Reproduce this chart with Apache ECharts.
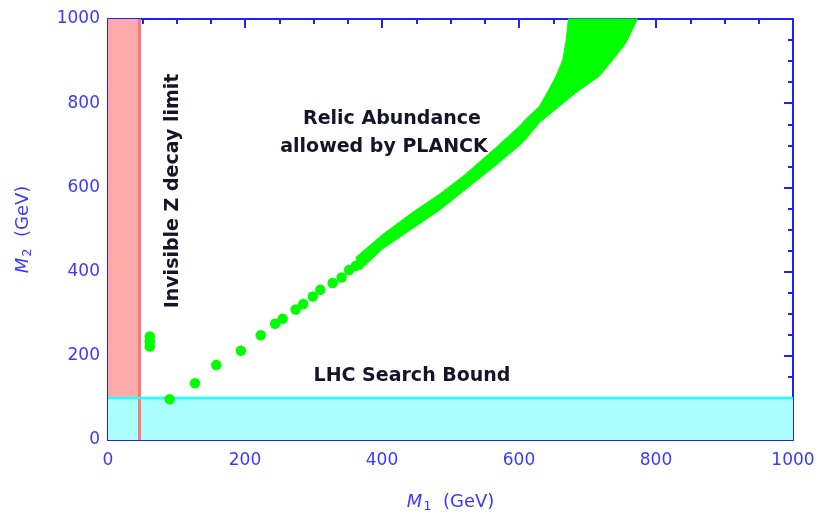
<!DOCTYPE html>
<html><head><meta charset="utf-8">
<script src="https://cdn.jsdelivr.net/npm/echarts@6/dist/echarts.min.js"></script>
<style>html,body{margin:0;padding:0;background:#fff}#c{width:821px;height:518px}</style>
</head><body><div id="c"></div>
<script>
// Axis settings (GeV)
const axisMin = 0;
const axisMax = 1000;
const axisStep = 200;
// Excluded regions
const zLimitM1 = 46;      // invisible Z decay limit on M1
const lhcBoundM2 = 100;   // LHC search bound on M2
// Relic-abundance allowed points (isolated dots)
const dotM1 = [61, 61, 61, 90, 127, 158, 194, 223, 244, 255, 274, 285, 299, 310, 328, 341, 352, 362];
const dotM2 = [222, 234, 246, 97, 135, 178, 212, 249, 276, 288, 310, 323, 341, 357, 373, 386, 404, 414];
// Relic-abundance allowed band: upper/left edge and lower/right edge
const bandUpperM1 = [362, 401, 445, 484, 518, 562, 601, 610, 630, 644, 654, 664, 669, 672];
const bandUpperM2 = [434, 488, 541, 584, 626, 688, 746, 762, 793, 833, 864, 903, 950, 1000];
const bandLowerM1 = [773, 756, 741, 717, 683, 659, 630, 610, 601, 562, 518, 484, 445, 401, 368];
const bandLowerM2 = [1000, 943, 911, 864, 825, 793, 754, 715, 700, 647, 590, 546, 503, 454, 404];

const blue = '#2020ff';
const labelBlue = '#3a3aff';
const dots = dotM1.map((x, i) => [x, dotM2[i]]);

function axisCommon(showLabel) {
  return {
    type: 'value', min: axisMin, max: axisMax, interval: axisStep,
    axisLine: { show: true, onZero: false, lineStyle: { color: blue, width: 2 } },
    axisTick: { show: true, inside: true, length: 9, lineStyle: { color: blue, width: 2 } },
    minorTick: { show: true, splitNumber: 4, length: 5, lineStyle: { color: blue, width: 2 } },
    splitLine: { show: false },
    minorSplitLine: { show: false },
    axisLabel: { show: showLabel, color: labelBlue, fontFamily: 'DejaVu Sans', fontSize: 17, margin: 12,
                 formatter: v => String(v) }
  };
}

const chart = echarts.init(document.getElementById('c'), null, { renderer: 'canvas' });
chart.setOption({
  animation: false,
  backgroundColor: '#fff',
  grid: { left: 108, right: 28, top: 19, bottom: 75.5 },
  xAxis: [
    Object.assign(axisCommon(true), {
      position: 'bottom',
      name: '{i|M}{s|1}  (GeV)', nameLocation: 'middle', nameGap: 52,
      nameTextStyle: {
        color: labelBlue, fontFamily: 'DejaVu Sans', fontSize: 18,
        rich: {
          i: { fontStyle: 'italic', fontFamily: 'DejaVu Sans', fontSize: 18, color: labelBlue },
          s: { fontFamily: 'DejaVu Sans', fontSize: 13, color: labelBlue, padding: [8, 0, 0, 1] }
        }
      }
    }),
    Object.assign(axisCommon(false), { position: 'top' })
  ],
  yAxis: [
    Object.assign(axisCommon(true), {
      position: 'left',
      name: '{i|M}{s|2}  (GeV)', nameLocation: 'middle', nameGap: 74,
      nameTextStyle: {
        color: labelBlue, fontFamily: 'DejaVu Sans', fontSize: 18,
        rich: {
          i: { fontStyle: 'italic', fontFamily: 'DejaVu Sans', fontSize: 18, color: labelBlue },
          s: { fontFamily: 'DejaVu Sans', fontSize: 13, color: labelBlue, padding: [8, 0, 0, 1] }
        }
      },
      axisLabel: { show: true, color: labelBlue, fontFamily: 'DejaVu Sans', fontSize: 17, margin: 8,
                   formatter: v => String(v) }
    }),
    Object.assign(axisCommon(false), { position: 'right' })
  ],
  series: [
    {
      type: 'custom', coordinateSystem: 'cartesian2d', xAxisIndex: 0, yAxisIndex: 0,
      z: 1, silent: true,
      data: [[500, 500]],
      renderItem: function (params, api) {
        const a = api.coord([axisMin, axisMax]);
        const b = api.coord([zLimitM1, axisMin]);
        const c = api.coord([axisMax, lhcBoundM2]);
        const d = api.coord([axisMin, axisMin]);
        const e = api.coord([axisMax, axisMin]);
        return {
          type: 'group',
          children: [
            { type: 'rect', shape: { x: a[0], y: a[1], width: b[0] - a[0], height: b[1] - a[1] }, style: { fill: '#ffaaaa' } },
            { type: 'rect', shape: { x: d[0], y: c[1], width: e[0] - d[0], height: d[1] - c[1] }, style: { fill: '#aaffff' } },
            { type: 'line', shape: { x1: b[0], y1: a[1], x2: b[0], y2: b[1] }, style: { stroke: '#ff7878', lineWidth: 3 } },
            { type: 'line', shape: { x1: d[0], y1: c[1], x2: e[0], y2: c[1] }, style: { stroke: '#22ffff', lineWidth: 2.5 } }
          ]
        };
      }
    },
    {
      type: 'custom', coordinateSystem: 'cartesian2d', xAxisIndex: 0, yAxisIndex: 0,
      z: 3, silent: true,
      data: [[500, 500]],
      renderItem: function (params, api) {
        const pts = [];
        bandUpperM1.forEach((x, i) => pts.push(api.coord([x, bandUpperM2[i]])));
        bandLowerM1.forEach((x, i) => pts.push(api.coord([x, bandLowerM2[i]])));
        return { type: 'polygon', shape: { points: pts }, style: { fill: '#00ff00', stroke: '#00ff00', lineWidth: 1 } };
      }
    },
    {
      type: 'scatter', xAxisIndex: 0, yAxisIndex: 0, z: 3,
      symbol: 'circle', symbolSize: 10.5,
      itemStyle: { color: '#00ff00', opacity: 1 },
      data: dots
    }
  ],
  graphic: [
    { type: 'text', x: 392, y: 119, z: 10, style: { text: 'Relic Abundance', font: 'bold 19px "DejaVu Sans"', fill: '#15152a', align: 'center', verticalAlign: 'middle' } },
    { type: 'text', x: 384, y: 147, z: 10, style: { text: 'allowed by PLANCK', font: 'bold 19px "DejaVu Sans"', fill: '#15152a', align: 'center', verticalAlign: 'middle' } },
    { type: 'text', x: 412, y: 376, z: 10, style: { text: 'LHC Search Bound', font: 'bold 19px "DejaVu Sans"', fill: '#15152a', align: 'center', verticalAlign: 'middle' } },
    { type: 'text', x: 173, y: 191, rotation: Math.PI / 2, z: 10, style: { text: 'Invisible Z decay limit', font: 'bold 19px "DejaVu Sans"', fill: '#15152a', align: 'center', verticalAlign: 'middle' } }
  ]
});
</script>
</body></html>
